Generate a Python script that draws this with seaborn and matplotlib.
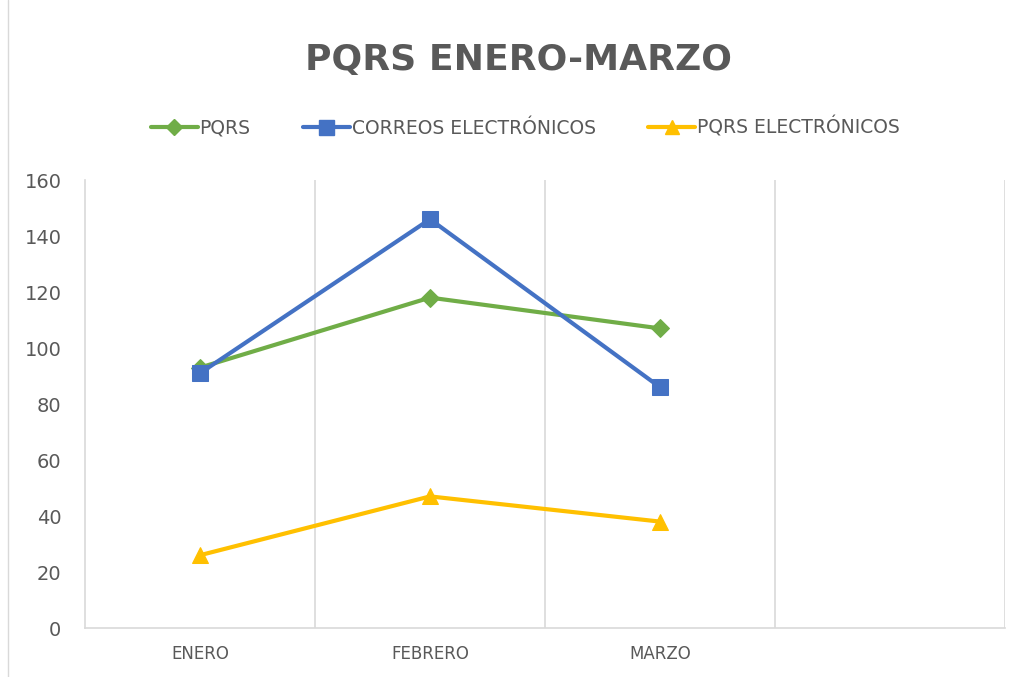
import pandas as pd
import matplotlib.pyplot as plt
import seaborn as sns
from matplotlib.lines import Line2D

# Data
meses = ["ENERO", "FEBRERO", "MARZO", ""]
pqrs = [93, 118, 107]
correos = [91, 146, 86]
pqrs_electronicos = [26, 47, 38]

series = ["PQRS", "CORREOS ELECTRÓNICOS", "PQRS ELECTRÓNICOS"]
colores = ["#70AD47", "#4472C4", "#FFC000"]
marcadores = ["D", "s", "^"]
tamanos = [9, 12, 11]

df = pd.DataFrame({
    "mes": list(range(3)) * 3,
    "valor": pqrs + correos + pqrs_electronicos,
    "serie": [s for s in series for _ in range(3)],
})

sns.set_style("white")
plt.rcParams['font.family'] = ['DejaVu Sans']

fig = plt.figure(figsize=(10.2, 6.77), dpi=100)
ax = fig.add_axes([85 / 1020, 49 / 677, 920 / 1020, 448 / 677])

for s, c, m, ms in zip(series, colores, marcadores, tamanos):
    sns.lineplot(
        data=df[df["serie"] == s],
        x="mes",
        y="valor",
        color=c,
        marker=m,
        markersize=ms,
        markeredgecolor=c,
        linewidth=3,
        ax=ax,
        legend=False
    )

ax.set_xlim(-0.5, 3.5)
ax.set_ylim(0, 160)
ax.set_yticks(range(0, 161, 20))
ax.set_xticks(range(4))
ax.set_xticklabels(meses, fontsize=12, color="#595959")
ax.tick_params(axis="y", labelsize=14, colors="#595959", length=0, pad=17)
ax.tick_params(axis="x", length=0, pad=12)
ax.set_xlabel("")
ax.set_ylabel("")

for xv in [0.5, 1.5, 2.5, 3.5]:
    ax.axvline(xv, color="#D9D9D9", linewidth=1.2, zorder=0)

for side in ["top", "right"]:
    ax.spines[side].set_visible(False)
for side in ["left", "bottom"]:
    ax.spines[side].set_color("#D9D9D9")
    ax.spines[side].set_linewidth(1.2)

fig.text(0.508, 1 - 60 / 677, "PQRS ENERO-MARZO", ha="center", va="center",
         fontsize=26, fontweight="bold", color="#595959")

handles = [
    Line2D([0], [0], color=c, marker=m, markersize=ms * 0.9, linewidth=3)
    for c, m, ms in zip(colores, marcadores, tamanos)
]
leg = fig.legend(handles, series, loc="center", bbox_to_anchor=(0.515, 1 - 127 / 677),
                 ncol=3, frameon=False, fontsize=13.5, handlelength=2.5,
                 handletextpad=0.1, columnspacing=2.8)
for t in leg.get_texts():
    t.set_color("#595959")

fig.add_artist(Line2D([8 / 1020, 8 / 1020], [0, 1], color="#D9D9D9", linewidth=1))

plt.savefig("out.png", dpi=100)
